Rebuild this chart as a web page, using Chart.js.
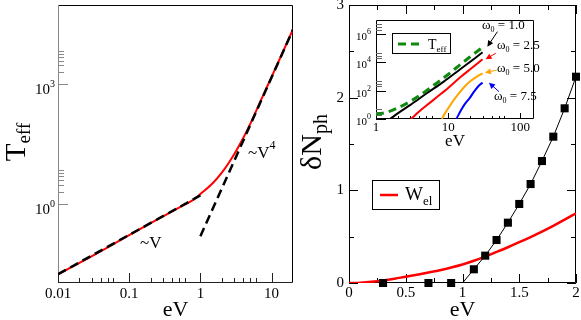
<!DOCTYPE html>
<html><head><meta charset="utf-8">
<script src="https://cdn.jsdelivr.net/npm/chart.js@4.4.1/dist/chart.umd.min.js"></script>
<style>
html,body{margin:0;padding:0;background:#fff;width:581px;height:320px;overflow:hidden}
.c{position:absolute}
canvas{display:block}
</style></head><body>
<div class="c" style="left:0;top:0"><canvas id="c1" width="300" height="320"></canvas></div>
<div class="c" style="left:290px;top:0"><canvas id="c2" width="291" height="320"></canvas></div>
<div class="c" style="left:340px;top:10px"><canvas id="c3" width="236" height="140"></canvas></div>
<script>
// ---------- data: left panel (T_eff vs eV, log-log) ----------
const leftV    = [0.01,0.02,0.05,0.1,0.2,0.5,0.8,1,1.5,2,3,4,5,7,10,15,20];
const leftTeff = [0.0166,0.032,0.079,0.16,0.32,0.79,1.26,1.74,3.3,6.0,17.8,44.7,100,380,1550,7700,24500];
const fitLinV  = [0.01,1];
const fitLinT  = [0.0166,1.6];
const fitQuartV = [1,20];
const fitQuartT = [0.15,24000];
const leftXTicks = [0.01,0.1,1,10];
const leftXLabels = ['0.01','0.1','1','10'];
const leftXMinor = [0.02,0.03,0.04,0.05,0.06,0.2,0.3,0.4,0.5,0.6,2,3,4,5,6];
const leftYTicks = [1,1000];
const leftYExp = ['0','3'];
const leftYMinor = [2,3,4,5,6,7,2000,3000,4000,5000,6000,7000];

// ---------- data: right panel (delta N_ph vs eV) ----------
const dnV  = [0.3,0.7,0.9,1.1,1.2,1.3,1.4,1.5,1.6,1.7,1.8,1.9,2.0];
const dnPh = [0,0,0,0.148,0.295,0.464,0.651,0.853,1.068,1.316,1.579,1.885,2.226];
const dnLineV  = [1.0,1.1,1.2,1.3,1.4,1.5,1.6,1.7,1.8,1.9,2.0];
const dnLinePh = [0,0.148,0.295,0.464,0.651,0.853,1.068,1.316,1.579,1.885,2.226];
const welV = [0,0.1,0.2,0.3,0.4,0.5,0.6,0.7,0.8,0.9,1.0,1.1,1.2,1.3,1.4,1.5,1.6,1.7,1.8,1.9,2.0];
const welY = [0,0.004,0.013,0.027,0.046,0.068,0.09,0.113,0.138,0.167,0.2,0.24,0.285,0.335,0.386,0.44,0.496,0.555,0.617,0.683,0.752];
const rightXTicks = [0,0.5,1,1.5,2];
const rightXLabels = ['0','0.5','1','1.5','2'];
const rightXMinor = [0.25,0.75,1.25,1.75];
const rightYTicks = [0,1,2,3];
const rightYLabels = ['0','1','2','3'];
const rightYMinor = [0.5,1.5,2.5];

// ---------- data: inset (log-log) ----------
const tEffV = [1,1.5,2,3,4,5,7,10,15,20,30];
const tEffY = [2.1,3.3,6.0,17.8,44.7,100,355,1413,7586,23988,117000];
const w10V = [1.57,2,3,5,8.7,15,25,30];
const w10Y = [1,2.5,10,63,437,3550,25100,52500];
const w25V = [3.05,4,5,7,10,15,20,30];
const w25Y = [1,3.5,8.9,35.5,158,955,3160,16600];
const w50V = [8.2,9,10,12,14,17,20,25,30];
const w50Y = [1,2.5,5.6,22.4,63,200,447,1000,1700];
const w75V = [13,15,17,20,23,26.6,30];
const w75Y = [1,4,11.2,31.6,89,224,372];
const insetXTicks = [1,10,100];
const insetXLabels = ['1','10','100'];
const insetXMinor = [2,3,4,5,6,20,30,40,50,60];
const insetYTicks = [1,100,10000,1000000];
const insetYExp = ['0','2','4','6'];
const insetYMinor = [2,3,5,200,300,500,20000,30000,50000,2000000,3000000,5000000];
const omegaLabels = ['1.0','2.5','5.0','7.5'];
const omegaColors = ['#000000','#ff0000','#ffa500','#0000ff'];
// arrow tail/head in data units (V, N)
const arrowTailV = [48.2,45.7,47.2,50.8];
const arrowTailY = [1.5e6,4.5e4,2.9e3,85];
const arrowHeadV = [35,33.1,32.4,36.8];
const arrowHeadY = [1.3e5,1.66e4,1.86e3,370];

const FONT = '"Liberation Serif","Times New Roman",serif';
const pts = (xs, ys) => xs.map((x, i) => ({x: x, y: ys[i]}));

function richWidth(ctx, parts) {
  let w = 0;
  parts.forEach(p => { ctx.font = p[1] + 'px ' + FONT; w += ctx.measureText(p[0]).width; });
  return w;
}
function drawRich(ctx, parts, x, y, align, color) {
  const w = richWidth(ctx, parts);
  let cx = align === 'center' ? x - w / 2 : (align === 'right' ? x - w : x);
  ctx.save();
  ctx.fillStyle = color || '#000';
  ctx.textBaseline = 'alphabetic';
  ctx.textAlign = 'left';
  parts.forEach(p => {
    ctx.font = p[1] + 'px ' + FONT;
    ctx.fillText(p[0], cx, y + (p[2] || 0));
    cx += ctx.measureText(p[0]).width;
  });
  ctx.restore();
}
function drawRot(ctx, parts, x, y) {
  ctx.save(); ctx.translate(x, y); ctx.rotate(-Math.PI / 2);
  drawRich(ctx, parts, 0, 0, 'center'); ctx.restore();
}
function tickLines(ctx, scale, values, len, side, color) {
  const a = scale.chart.chartArea;
  ctx.save(); ctx.strokeStyle = color || '#000'; ctx.lineWidth = 1; ctx.beginPath();
  values.forEach(v => {
    if (v < scale.min || v > scale.max) return;
    const p = Math.round(scale.getPixelForValue(v)) + 0.5;
    if (side === 'bottom') { ctx.moveTo(p, a.bottom); ctx.lineTo(p, a.bottom - len); }
    if (side === 'top') { ctx.moveTo(p, a.top); ctx.lineTo(p, a.top + len); }
    if (side === 'left') { ctx.moveTo(a.left, p); ctx.lineTo(a.left + len, p); }
    if (side === 'right') { ctx.moveTo(a.right, p); ctx.lineTo(a.right - len, p); }
  });
  ctx.stroke(); ctx.restore();
}
function frame(ctx, a, colors) {
  ctx.save(); ctx.lineWidth = 1;
  const L = a.left + 0.5, R = a.right - 0.5, T = a.top + 0.5, B = a.bottom - 0.5;
  const seg = (x1, y1, x2, y2, c) => { ctx.strokeStyle = c; ctx.beginPath(); ctx.moveTo(x1, y1); ctx.lineTo(x2, y2); ctx.stroke(); };
  seg(L, T, R, T, colors.top); seg(R, T, R, B, colors.right);
  seg(L, B, R, B, colors.bottom); seg(L, T, L, B, colors.left);
  ctx.restore();
}
function xScale(type, min, max, ticks, labels, fs, pad, h) {
  return {
    type: type, min: min, max: max, position: 'bottom',
    grid: {display: false, drawTicks: false}, border: {display: false},
    ticks: {font: {family: FONT, size: fs}, color: '#000', padding: pad, autoSkip: false, maxRotation: 0, minRotation: 0,
      callback: (v, i) => labels[i]},
    afterBuildTicks: s => { s.ticks = ticks.map(v => ({value: v})); },
    afterFit: s => { s.height = h; s.paddingLeft = 0; s.paddingRight = 0; }
  };
}
function yScale(type, min, max, ticks, labels, fs, pad, w) {
  return {
    type: type, min: min, max: max, position: 'left',
    grid: {display: false, drawTicks: false}, border: {display: false},
    ticks: labels ? {font: {family: FONT, size: fs}, color: '#000', padding: pad, autoSkip: false,
      callback: (v, i) => labels[i]} : {display: false},
    afterBuildTicks: s => { s.ticks = ticks.map(v => ({value: v})); },
    afterFit: s => { s.width = w; s.paddingTop = 0; s.paddingBottom = 0; }
  };
}
const common = {
  responsive: false, animation: false, devicePixelRatio: 1, events: [],
  plugins: {legend: {display: false}, tooltip: {enabled: false}}
};

// ---------- left chart ----------
new Chart(document.getElementById('c1'), {
  type: 'scatter',
  data: {datasets: [
    {data: pts(fitLinV, fitLinT), showLine: true, borderColor: '#000', borderWidth: 2.5, borderDash: [9, 5], pointRadius: 0, order: 0},
    {data: pts(fitQuartV, fitQuartT), showLine: true, borderColor: '#000', borderWidth: 2.5, borderDash: [9, 5], pointRadius: 0, order: 0},
    {data: pts(leftV, leftTeff), showLine: true, borderColor: '#ff0000', borderWidth: 2, pointRadius: 0, cubicInterpolationMode: 'monotone', order: 1}
  ]},
  options: Object.assign({}, common, {
    layout: {padding: {left: 0, top: 5, right: 7, bottom: 0}, autoPadding: false},
    scales: {
      x: xScale('logarithmic', 0.01, 20, leftXTicks, leftXLabels, 15, 2, 37),
      y: yScale('logarithmic', 0.01, 100000, leftYTicks, null, 15, 0, 58)
    }
  }),
  plugins: [{
    id: 'deco1',
    beforeDatasetsDraw(chart) {
      const ctx = chart.ctx, a = chart.chartArea, sx = chart.scales.x, sy = chart.scales.y;
      frame(ctx, a, {top: '#000', right: '#000', bottom: '#222', left: '#888'});
      tickLines(ctx, sx, leftXTicks, 10, 'bottom', '#222');
      tickLines(ctx, sx, leftXMinor, 5, 'bottom', '#222');
      tickLines(ctx, sy, leftYTicks, 10, 'left', '#888');
      tickLines(ctx, sy, leftYMinor, 6, 'left', '#888');
      leftYTicks.forEach((v, i) => {
        const p = sy.getPixelForValue(v);
        drawRich(ctx, [['10', 15, 0], [leftYExp[i], 10, -7]], 55, p + 10, 'right');
      });
      drawRich(ctx, [['eV', 22, 0]], (a.left + a.right) / 2, 316, 'center');
      drawRot(ctx, [['T', 29, 0], ['eff', 19, 5]], 25, 142);
      drawRich(ctx, [['~V', 17, 0]], 140, 248, 'left');
      drawRich(ctx, [['~V', 17, 0], ['4', 12, -9]], 248, 158, 'left');
    }
  }]
});

// ---------- right chart ----------
new Chart(document.getElementById('c2'), {
  type: 'scatter',
  data: {datasets: [
    {data: pts(dnV, dnPh), showLine: false, pointStyle: 'rect', pointRadius: 5.7, backgroundColor: '#000', borderColor: '#000', borderWidth: 0, clip: false, order: 0},
    {data: pts(dnLineV, dnLinePh), showLine: true, borderColor: '#000', borderWidth: 1, pointRadius: 0, tension: 0, order: 1},
    {data: pts(welV, welY), showLine: true, borderColor: '#ff0000', borderWidth: 2.5, pointRadius: 0, cubicInterpolationMode: 'monotone', order: 2}
  ]},
  options: Object.assign({}, common, {
    layout: {padding: {left: 0, top: 5, right: 5, bottom: 0}, autoPadding: false},
    scales: {
      x: xScale('linear', 0, 2, rightXTicks, rightXLabels, 15, 1, 37),
      y: yScale('linear', 0, 3, rightYTicks, rightYLabels, 15, 5, 59)
    }
  }),
  plugins: [{
    id: 'deco2',
    beforeDatasetsDraw(chart) {
      const ctx = chart.ctx, a = chart.chartArea, sx = chart.scales.x, sy = chart.scales.y;
      frame(ctx, a, {top: '#000', right: '#000', bottom: '#000', left: '#000'});
      ['bottom', 'top'].forEach(s => { tickLines(ctx, sx, rightXTicks, 9, s); tickLines(ctx, sx, rightXMinor, 5, s); });
      ['left', 'right'].forEach(s => { tickLines(ctx, sy, rightYTicks, 9, s); tickLines(ctx, sy, rightYMinor, 5, s); });
      drawRich(ctx, [['eV', 22, 0]], (a.left + a.right) / 2, 316, 'center');
      drawRot(ctx, [['δN', 30, 0], ['ph', 20, 6]], 31, 142);
    },
    afterDatasetsDraw(chart) {
      const ctx = chart.ctx;
      ctx.save();
      ctx.fillStyle = '#fff'; ctx.strokeStyle = '#000'; ctx.lineWidth = 1;
      ctx.fillRect(82, 180, 68, 30); ctx.strokeRect(82.5, 180.5, 67, 29);
      ctx.strokeStyle = '#ff0000'; ctx.lineWidth = 2.5;
      ctx.beginPath(); ctx.moveTo(90, 195); ctx.lineTo(108, 195); ctx.stroke();
      ctx.restore();
      drawRich(ctx, [['W', 19, 0], ['el', 13, 5]], 115, 200, 'left');
    }
  }]
});

// ---------- inset chart ----------
const insetSets = [
  {data: pts(tEffV, tEffY), showLine: true, borderColor: '#0f8a0f', borderWidth: 3, borderDash: [8, 5], pointRadius: 0, cubicInterpolationMode: 'monotone'},
  {data: pts(w10V, w10Y), showLine: true, borderColor: omegaColors[0], borderWidth: 2, pointRadius: 0, cubicInterpolationMode: 'monotone'},
  {data: pts(w25V, w25Y), showLine: true, borderColor: omegaColors[1], borderWidth: 2, pointRadius: 0, cubicInterpolationMode: 'monotone'},
  {data: pts(w50V, w50Y), showLine: true, borderColor: omegaColors[2], borderWidth: 2, pointRadius: 0, cubicInterpolationMode: 'monotone'},
  {data: pts(w75V, w75Y), showLine: true, borderColor: omegaColors[3], borderWidth: 2, pointRadius: 0, cubicInterpolationMode: 'monotone'}
];
new Chart(document.getElementById('c3'), {
  type: 'scatter',
  data: {datasets: insetSets},
  options: Object.assign({}, common, {
    layout: {padding: {left: 0, top: 10, right: 42, bottom: 0}, autoPadding: false},
    scales: {
      x: xScale('logarithmic', 1, 155, insetXTicks, insetXLabels, 13, 1, 31),
      y: yScale('logarithmic', 1, 1e7, insetYTicks, null, 12, 0, 36)
    }
  }),
  plugins: [{
    id: 'deco3',
    beforeDraw(chart) {
      const ctx = chart.ctx, a = chart.chartArea;
      ctx.save(); ctx.fillStyle = '#fff'; ctx.fillRect(a.left, a.top, a.right - a.left, a.bottom - a.top); ctx.restore();
    },
    beforeDatasetsDraw(chart) {
      const ctx = chart.ctx, a = chart.chartArea, sx = chart.scales.x, sy = chart.scales.y;
      frame(ctx, a, {top: '#000', right: '#000', bottom: '#000', left: '#000'});
      tickLines(ctx, sx, insetXTicks, 6, 'bottom');
      tickLines(ctx, sx, insetXMinor, 3, 'bottom');
      tickLines(ctx, sy, insetYTicks, 10, 'left');
      tickLines(ctx, sy, insetYMinor, 6, 'left', '#666');
      insetYTicks.forEach((v, i) => {
        const p = sy.getPixelForValue(v);
        drawRich(ctx, [['10', 11, 0], [insetYExp[i], 8, -6]], 31, p + 6, 'right');
      });
      drawRich(ctx, [['eV', 17, 0]], (a.left + a.right) / 2, 136, 'center');
    },
    afterDatasetsDraw(chart) {
      const ctx = chart.ctx, sx = chart.scales.x, sy = chart.scales.y;
      // legend
      ctx.save();
      ctx.fillStyle = '#fff'; ctx.fillRect(52, 23, 59, 21);
      ctx.strokeStyle = '#000'; ctx.lineWidth = 1; ctx.strokeRect(52.5, 23.5, 58, 20);
      ctx.strokeStyle = '#0f8a0f'; ctx.lineWidth = 3; ctx.setLineDash([8, 5]);
      ctx.beginPath(); ctx.moveTo(58, 34); ctx.lineTo(82, 34); ctx.stroke();
      ctx.restore();
      drawRich(ctx, [['T', 14, 0], ['eff', 9, 3]], 88, 39, 'left');
      // arrows
      for (let i = 0; i < 4; i++) {
        const x1 = sx.getPixelForValue(arrowTailV[i]), y1 = sy.getPixelForValue(arrowTailY[i]);
        const x2 = sx.getPixelForValue(arrowHeadV[i]), y2 = sy.getPixelForValue(arrowHeadY[i]);
        const ang = Math.atan2(y2 - y1, x2 - x1);
        ctx.save();
        ctx.strokeStyle = omegaColors[i]; ctx.fillStyle = omegaColors[i]; ctx.lineWidth = 1;
        ctx.beginPath(); ctx.moveTo(x1, y1); ctx.lineTo(x2 - 4 * Math.cos(ang), y2 - 4 * Math.sin(ang)); ctx.stroke();
        ctx.beginPath(); ctx.moveTo(x2, y2);
        ctx.lineTo(x2 - 6 * Math.cos(ang) + 3 * Math.sin(ang), y2 - 6 * Math.sin(ang) - 3 * Math.cos(ang));
        ctx.lineTo(x2 - 6 * Math.cos(ang) - 3 * Math.sin(ang), y2 - 6 * Math.sin(ang) + 3 * Math.cos(ang));
        ctx.closePath(); ctx.fill();
        ctx.restore();
      }
      const lx = [142, 157, 157, 154], ly = [18.5, 39, 62, 90];
      for (let i = 0; i < 4; i++) {
        drawRich(ctx, [['ω', 13, 0], ['0', 8, 3], [' = ' + omegaLabels[i], 13, 0]], lx[i], ly[i], 'left');
      }
    }
  }]
});
</script>
</body></html>
